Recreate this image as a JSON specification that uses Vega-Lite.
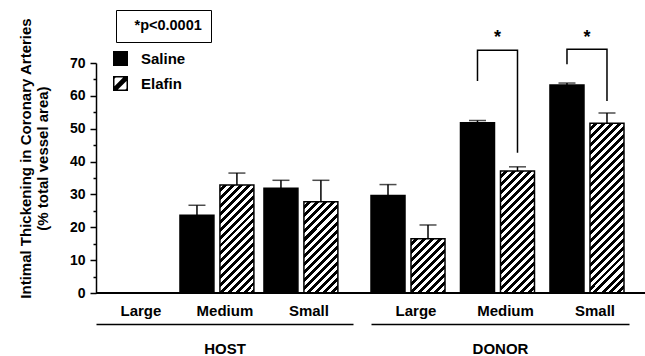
{
"$schema": "https://vega.github.io/schema/vega-lite/v6.json",
"padding": {"left": 17, "top": 9, "right": 0, "bottom": 0},
"background": "white",
"config": {"view": {"stroke": null}, "font": "Liberation Sans", "axis": {"labelOverlap": false}},
"datasets": {
"bars": [
{"site": "HOST", "size": "Medium", "treatment": "Saline", "value": 23.7, "err": 26.7},
{"site": "HOST", "size": "Medium", "treatment": "Elafin", "value": 32.9, "err": 36.5},
{"site": "HOST", "size": "Small", "treatment": "Saline", "value": 31.9, "err": 34.3},
{"site": "HOST", "size": "Small", "treatment": "Elafin", "value": 27.8, "err": 34.3},
{"site": "DONOR", "size": "Large", "treatment": "Saline", "value": 29.7, "err": 33.0},
{"site": "DONOR", "size": "Large", "treatment": "Elafin", "value": 16.5, "err": 20.7},
{"site": "DONOR", "size": "Medium", "treatment": "Saline", "value": 51.8, "err": 52.5},
{"site": "DONOR", "size": "Medium", "treatment": "Elafin", "value": 37.1, "err": 38.4},
{"site": "DONOR", "size": "Small", "treatment": "Saline", "value": 63.3, "err": 63.9},
{"site": "DONOR", "size": "Small", "treatment": "Elafin", "value": 51.7, "err": 54.8}
],
"brackets": [
{"bracket": "Medium", "size": "Medium", "treatment": "Saline", "y": 64.5, "k": 1},
{"bracket": "Medium", "size": "Medium", "treatment": "Saline", "y": 73.9, "k": 2},
{"bracket": "Medium", "size": "Medium", "treatment": "Elafin", "y": 73.9, "k": 3},
{"bracket": "Medium", "size": "Medium", "treatment": "Elafin", "y": 42.7, "k": 4},
{"bracket": "Small", "size": "Small", "treatment": "Saline", "y": 69.6, "k": 1},
{"bracket": "Small", "size": "Small", "treatment": "Saline", "y": 74.2, "k": 2},
{"bracket": "Small", "size": "Small", "treatment": "Elafin", "y": 74.2, "k": 3},
{"bracket": "Small", "size": "Small", "treatment": "Elafin", "y": 58.4, "k": 4}
],
"stars": [{"size": "Medium", "label": "*", "y": 76}, {"size": "Small", "label": "*", "y": 76}],
"note": [{"note": "*p<0.0001"}],
"zero": [{"v": 0}]
},
"spacing": 0,
"bounds": "flush",
"resolve": {"scale": {"x": "independent", "y": "independent", "xOffset": "independent", "fill": "independent"}},
"hconcat": [
{
"width": 257,
"height": 230,
"layer": [
{
"encoding": {
"y": {"field": "value", "type": "quantitative", "scale": {"domain": [0, 70]},
"axis": {"title": ["Intimal Thickening in Coronary Arteries", "(% total vessel area)"], "values": [0, 5, 10, 15, 20, 25, 30, 35, 40, 45, 50, 55, 60, 65, 70], "labelExpr": "datum.value % 10 === 0 ? datum.label : ''", "labelOverlap": false, "tickSize": {"condition": {"test": "datum.value % 10 === 0", "value": 6}, "value": 3}, "tickColor": "#000", "tickWidth": 1.5, "domainColor": "#000", "domainWidth": 1.5, "grid": false, "labelFont": "Liberation Sans", "labelFontSize": 14, "labelFontWeight": "bold", "labelColor": "#000", "labelPadding": 5, "titleFont": "Liberation Sans", "titleFontSize": 15, "titleFontWeight": "bold", "titleColor": "#000", "titleX": -71, "titleY": 95, "titleBaseline": "middle", "titleAlign": "center", "titleAngle": -90, "titleLineHeight": 17}}
},
"layer": [
{
"data": {"name": "bars"},
"transform": [{"filter": "datum.site === 'HOST'"}],
"mark": {"type": "bar", "stroke": "#000", "strokeWidth": 1.5},
"encoding": {
"x": {"field": "size", "type": "nominal", "scale": {"domain": ["Large", "Medium", "Small"], "paddingInner": 0.12, "paddingOuter": 0.09, "align": 0},
"axis": {"orient": "bottom", "offset": 31, "title": "HOST", "domainColor": "#000", "domainWidth": 1.5, "ticks": false, "tickSize": 0, "labelAngle": 0, "labelOverlap": false, "labelFont": "Liberation Sans", "labelFontSize": 15, "labelFontWeight": "bold", "labelColor": "#000", "labelBaseline": "alphabetic", "labelPadding": -9, "labelOffset": 8, "titleFont": "Liberation Sans", "titleFontSize": 15, "titleFontWeight": "bold", "titleColor": "#000", "titleBaseline": "alphabetic", "titleY": 29}},
"xOffset": {"field": "treatment", "type": "nominal", "scale": {"domain": ["Saline", "Elafin"], "paddingInner": 0.15, "paddingOuter": 0}},
"fill": {"field": "treatment", "type": "nominal", "scale": {"domain": ["Saline", "Elafin"], "range": ["#000", "#fff"]}, "legend": null,
"condition": [
{"test": "datum.treatment === 'Elafin' && datum.size === 'Medium'", "value": {"gradient": "linear", "x1": 0, "y1": 0, "x2": 0.3762, "y2": 1.1962, "stops": [
{"offset": 0, "color": "#fff"},
{"offset": 0.0278, "color": "#fff"}, {"offset": 0.0278, "color": "#000"},
{"offset": 0.0556, "color": "#000"}, {"offset": 0.0556, "color": "#fff"},
{"offset": 0.0833, "color": "#fff"}, {"offset": 0.0833, "color": "#000"},
{"offset": 0.1111, "color": "#000"}, {"offset": 0.1111, "color": "#fff"},
{"offset": 0.1389, "color": "#fff"}, {"offset": 0.1389, "color": "#000"},
{"offset": 0.1667, "color": "#000"}, {"offset": 0.1667, "color": "#fff"},
{"offset": 0.1944, "color": "#fff"}, {"offset": 0.1944, "color": "#000"},
{"offset": 0.2222, "color": "#000"}, {"offset": 0.2222, "color": "#fff"},
{"offset": 0.25, "color": "#fff"}, {"offset": 0.25, "color": "#000"},
{"offset": 0.2778, "color": "#000"}, {"offset": 0.2778, "color": "#fff"},
{"offset": 0.3056, "color": "#fff"}, {"offset": 0.3056, "color": "#000"},
{"offset": 0.3333, "color": "#000"}, {"offset": 0.3333, "color": "#fff"},
{"offset": 0.3611, "color": "#fff"}, {"offset": 0.3611, "color": "#000"},
{"offset": 0.3889, "color": "#000"}, {"offset": 0.3889, "color": "#fff"},
{"offset": 0.4167, "color": "#fff"}, {"offset": 0.4167, "color": "#000"},
{"offset": 0.4444, "color": "#000"}, {"offset": 0.4444, "color": "#fff"},
{"offset": 0.4722, "color": "#fff"}, {"offset": 0.4722, "color": "#000"},
{"offset": 0.5, "color": "#000"}, {"offset": 0.5, "color": "#fff"},
{"offset": 0.5278, "color": "#fff"}, {"offset": 0.5278, "color": "#000"},
{"offset": 0.5556, "color": "#000"}, {"offset": 0.5556, "color": "#fff"},
{"offset": 0.5833, "color": "#fff"}, {"offset": 0.5833, "color": "#000"},
{"offset": 0.6111, "color": "#000"}, {"offset": 0.6111, "color": "#fff"},
{"offset": 0.6389, "color": "#fff"}, {"offset": 0.6389, "color": "#000"},
{"offset": 0.6667, "color": "#000"}, {"offset": 0.6667, "color": "#fff"},
{"offset": 0.6944, "color": "#fff"}, {"offset": 0.6944, "color": "#000"},
{"offset": 0.7222, "color": "#000"}, {"offset": 0.7222, "color": "#fff"},
{"offset": 0.75, "color": "#fff"}, {"offset": 0.75, "color": "#000"},
{"offset": 0.7778, "color": "#000"}, {"offset": 0.7778, "color": "#fff"},
{"offset": 0.8056, "color": "#fff"}, {"offset": 0.8056, "color": "#000"},
{"offset": 0.8333, "color": "#000"}, {"offset": 0.8333, "color": "#fff"},
{"offset": 0.8611, "color": "#fff"}, {"offset": 0.8611, "color": "#000"},
{"offset": 0.8889, "color": "#000"}, {"offset": 0.8889, "color": "#fff"},
{"offset": 0.9167, "color": "#fff"}, {"offset": 0.9167, "color": "#000"},
{"offset": 0.9444, "color": "#000"}, {"offset": 0.9444, "color": "#fff"},
{"offset": 0.9722, "color": "#fff"}, {"offset": 0.9722, "color": "#000"},
{"offset": 1, "color": "#000"}]}},
{"test": "datum.treatment === 'Elafin' && datum.size === 'Small'", "value": {"gradient": "linear", "x1": 0, "y1": 0, "x2": 0.4486, "y2": 1.2052, "stops": [
{"offset": 0, "color": "#fff"},
{"offset": 0.0323, "color": "#fff"}, {"offset": 0.0323, "color": "#000"},
{"offset": 0.0645, "color": "#000"}, {"offset": 0.0645, "color": "#fff"},
{"offset": 0.0968, "color": "#fff"}, {"offset": 0.0968, "color": "#000"},
{"offset": 0.129, "color": "#000"}, {"offset": 0.129, "color": "#fff"},
{"offset": 0.1613, "color": "#fff"}, {"offset": 0.1613, "color": "#000"},
{"offset": 0.1935, "color": "#000"}, {"offset": 0.1935, "color": "#fff"},
{"offset": 0.2258, "color": "#fff"}, {"offset": 0.2258, "color": "#000"},
{"offset": 0.2581, "color": "#000"}, {"offset": 0.2581, "color": "#fff"},
{"offset": 0.2903, "color": "#fff"}, {"offset": 0.2903, "color": "#000"},
{"offset": 0.3226, "color": "#000"}, {"offset": 0.3226, "color": "#fff"},
{"offset": 0.3548, "color": "#fff"}, {"offset": 0.3548, "color": "#000"},
{"offset": 0.3871, "color": "#000"}, {"offset": 0.3871, "color": "#fff"},
{"offset": 0.4194, "color": "#fff"}, {"offset": 0.4194, "color": "#000"},
{"offset": 0.4516, "color": "#000"}, {"offset": 0.4516, "color": "#fff"},
{"offset": 0.4839, "color": "#fff"}, {"offset": 0.4839, "color": "#000"},
{"offset": 0.5161, "color": "#000"}, {"offset": 0.5161, "color": "#fff"},
{"offset": 0.5484, "color": "#fff"}, {"offset": 0.5484, "color": "#000"},
{"offset": 0.5806, "color": "#000"}, {"offset": 0.5806, "color": "#fff"},
{"offset": 0.6129, "color": "#fff"}, {"offset": 0.6129, "color": "#000"},
{"offset": 0.6452, "color": "#000"}, {"offset": 0.6452, "color": "#fff"},
{"offset": 0.6774, "color": "#fff"}, {"offset": 0.6774, "color": "#000"},
{"offset": 0.7097, "color": "#000"}, {"offset": 0.7097, "color": "#fff"},
{"offset": 0.7419, "color": "#fff"}, {"offset": 0.7419, "color": "#000"},
{"offset": 0.7742, "color": "#000"}, {"offset": 0.7742, "color": "#fff"},
{"offset": 0.8065, "color": "#fff"}, {"offset": 0.8065, "color": "#000"},
{"offset": 0.8387, "color": "#000"}, {"offset": 0.8387, "color": "#fff"},
{"offset": 0.871, "color": "#fff"}, {"offset": 0.871, "color": "#000"},
{"offset": 0.9032, "color": "#000"}, {"offset": 0.9032, "color": "#fff"},
{"offset": 0.9355, "color": "#fff"}, {"offset": 0.9355, "color": "#000"},
{"offset": 0.9677, "color": "#000"}, {"offset": 0.9677, "color": "#fff"},
{"offset": 1, "color": "#fff"}]}}
]}
}
},
{
"data": {"name": "bars"},
"transform": [{"filter": "datum.site === 'HOST'"}],
"mark": {"type": "rule", "color": "#000", "strokeWidth": 1.5},
"encoding": {
"x": {"field": "size", "type": "nominal"},
"xOffset": {"field": "treatment", "type": "nominal"},
"y2": {"field": "err"}
}
},
{
"data": {"name": "bars"},
"transform": [{"filter": "datum.site === 'HOST'"}],
"mark": {"type": "tick", "color": "#000", "thickness": 1.5, "size": 17, "orient": "horizontal"},
"encoding": {
"x": {"field": "size", "type": "nominal"},
"xOffset": {"field": "treatment", "type": "nominal"},
"y": {"field": "err", "type": "quantitative"}
}
},
{
"data": {"name": "zero"},
"mark": {"type": "rule", "color": "#000", "strokeWidth": 2},
"encoding": {"y": {"field": "v", "type": "quantitative"}}
},
{
"data": {"name": "bars"},
"transform": [{"filter": "datum.site === 'HOST'"}],
"mark": {"type": "point", "opacity": 0, "filled": true, "color": "#000"},
"encoding": {
"shape": {"field": "treatment", "type": "nominal", "scale": {"domain": ["Saline", "Elafin"], "range": ["square", "M-1,-1H1V1H-1Z M-0.8,-0.8V0.8H0.8V-0.8Z M-1,0.55L0.55,-1L1,-1L1,-0.55L-0.55,1L-1,1Z M-1,-1L-0.45,-1L-1,-0.45Z M1,1L0.45,1L1,0.45Z"]},
"legend": {"orient": "none", "legendX": 17, "legendY": -12, "title": null, "symbolSize": 225, "symbolOpacity": 1, "symbolFillColor": "#000", "symbolStrokeColor": "#000", "symbolStrokeWidth": 0, "labelFont": "Liberation Sans", "labelFontSize": 15, "labelFontWeight": "bold", "labelColor": "#000", "labelOffset": 13, "rowPadding": 9, "padding": 0}}
}
}
]
},
{
"data": {"name": "note"},
"mark": {"type": "point", "opacity": 0},
"encoding": {
"color": {"field": "note", "type": "nominal", "scale": {"range": ["#000"]},
"legend": {"orient": "none", "legendX": 20, "legendY": -53, "title": null, "symbolSize": 0, "symbolOpacity": 0, "symbolStrokeWidth": 0, "labelOffset": -5, "labelFont": "Liberation Sans", "labelFontSize": 14.5, "labelFontWeight": "bold", "labelColor": "#000", "strokeColor": "#000", "padding": 9, "encode": {"legend": {"update": {"strokeWidth": {"value": 1.5}}}}}}
}
}
]
},
{
"width": 293,
"height": 230,
"encoding": {
"y": {"field": "value", "type": "quantitative", "scale": {"domain": [0, 70]}, "axis": null}
},
"layer": [
{
"data": {"name": "bars"},
"transform": [{"filter": "datum.site === 'DONOR'"}],
"mark": {"type": "bar", "stroke": "#000", "strokeWidth": 1.5},
"encoding": {
"x": {"field": "size", "type": "nominal", "scale": {"domain": ["Large", "Medium", "Small"], "range": [18, 276], "paddingInner": 0.173, "paddingOuter": 0.028, "align": 0},
"axis": {"orient": "bottom", "offset": 31, "title": "DONOR", "domainColor": "#000", "domainWidth": 1.5, "ticks": false, "tickSize": 0, "labelAngle": 0, "labelOverlap": false, "labelFont": "Liberation Sans", "labelFontSize": 15, "labelFontWeight": "bold", "labelColor": "#000", "labelBaseline": "alphabetic", "labelPadding": -9, "labelOffset": 8, "titleFont": "Liberation Sans", "titleFontSize": 15, "titleFontWeight": "bold", "titleColor": "#000", "titleBaseline": "alphabetic", "titleY": 29}},
"xOffset": {"field": "treatment", "type": "nominal", "scale": {"domain": ["Saline", "Elafin"], "paddingInner": 0.15, "paddingOuter": 0}},
"fill": {"field": "treatment", "type": "nominal", "scale": {"domain": ["Saline", "Elafin"], "range": ["#000", "#fff"]}, "legend": null,
"condition": [
{"test": "datum.treatment === 'Elafin' && datum.size === 'Large'", "value": {"gradient": "linear", "x1": 0, "y1": 0, "x2": 0.7324, "y2": 1.1678, "stops": [
{"offset": 0, "color": "#fff"},
{"offset": 0.0455, "color": "#fff"}, {"offset": 0.0455, "color": "#000"},
{"offset": 0.0909, "color": "#000"}, {"offset": 0.0909, "color": "#fff"},
{"offset": 0.1364, "color": "#fff"}, {"offset": 0.1364, "color": "#000"},
{"offset": 0.1818, "color": "#000"}, {"offset": 0.1818, "color": "#fff"},
{"offset": 0.2273, "color": "#fff"}, {"offset": 0.2273, "color": "#000"},
{"offset": 0.2727, "color": "#000"}, {"offset": 0.2727, "color": "#fff"},
{"offset": 0.3182, "color": "#fff"}, {"offset": 0.3182, "color": "#000"},
{"offset": 0.3636, "color": "#000"}, {"offset": 0.3636, "color": "#fff"},
{"offset": 0.4091, "color": "#fff"}, {"offset": 0.4091, "color": "#000"},
{"offset": 0.4545, "color": "#000"}, {"offset": 0.4545, "color": "#fff"},
{"offset": 0.5, "color": "#fff"}, {"offset": 0.5, "color": "#000"},
{"offset": 0.5455, "color": "#000"}, {"offset": 0.5455, "color": "#fff"},
{"offset": 0.5909, "color": "#fff"}, {"offset": 0.5909, "color": "#000"},
{"offset": 0.6364, "color": "#000"}, {"offset": 0.6364, "color": "#fff"},
{"offset": 0.6818, "color": "#fff"}, {"offset": 0.6818, "color": "#000"},
{"offset": 0.7273, "color": "#000"}, {"offset": 0.7273, "color": "#fff"},
{"offset": 0.7727, "color": "#fff"}, {"offset": 0.7727, "color": "#000"},
{"offset": 0.8182, "color": "#000"}, {"offset": 0.8182, "color": "#fff"},
{"offset": 0.8636, "color": "#fff"}, {"offset": 0.8636, "color": "#000"},
{"offset": 0.9091, "color": "#000"}, {"offset": 0.9091, "color": "#fff"},
{"offset": 0.9545, "color": "#fff"}, {"offset": 0.9545, "color": "#000"},
{"offset": 1, "color": "#000"}]}},
{"test": "datum.treatment === 'Elafin' && datum.size === 'Medium'", "value": {"gradient": "linear", "x1": 0, "y1": 0, "x2": 0.331, "y2": 1.1866, "stops": [
{"offset": 0, "color": "#fff"},
{"offset": 0.0256, "color": "#fff"}, {"offset": 0.0256, "color": "#000"},
{"offset": 0.0513, "color": "#000"}, {"offset": 0.0513, "color": "#fff"},
{"offset": 0.0769, "color": "#fff"}, {"offset": 0.0769, "color": "#000"},
{"offset": 0.1026, "color": "#000"}, {"offset": 0.1026, "color": "#fff"},
{"offset": 0.1282, "color": "#fff"}, {"offset": 0.1282, "color": "#000"},
{"offset": 0.1538, "color": "#000"}, {"offset": 0.1538, "color": "#fff"},
{"offset": 0.1795, "color": "#fff"}, {"offset": 0.1795, "color": "#000"},
{"offset": 0.2051, "color": "#000"}, {"offset": 0.2051, "color": "#fff"},
{"offset": 0.2308, "color": "#fff"}, {"offset": 0.2308, "color": "#000"},
{"offset": 0.2564, "color": "#000"}, {"offset": 0.2564, "color": "#fff"},
{"offset": 0.2821, "color": "#fff"}, {"offset": 0.2821, "color": "#000"},
{"offset": 0.3077, "color": "#000"}, {"offset": 0.3077, "color": "#fff"},
{"offset": 0.3333, "color": "#fff"}, {"offset": 0.3333, "color": "#000"},
{"offset": 0.359, "color": "#000"}, {"offset": 0.359, "color": "#fff"},
{"offset": 0.3846, "color": "#fff"}, {"offset": 0.3846, "color": "#000"},
{"offset": 0.4103, "color": "#000"}, {"offset": 0.4103, "color": "#fff"},
{"offset": 0.4359, "color": "#fff"}, {"offset": 0.4359, "color": "#000"},
{"offset": 0.4615, "color": "#000"}, {"offset": 0.4615, "color": "#fff"},
{"offset": 0.4872, "color": "#fff"}, {"offset": 0.4872, "color": "#000"},
{"offset": 0.5128, "color": "#000"}, {"offset": 0.5128, "color": "#fff"},
{"offset": 0.5385, "color": "#fff"}, {"offset": 0.5385, "color": "#000"},
{"offset": 0.5641, "color": "#000"}, {"offset": 0.5641, "color": "#fff"},
{"offset": 0.5897, "color": "#fff"}, {"offset": 0.5897, "color": "#000"},
{"offset": 0.6154, "color": "#000"}, {"offset": 0.6154, "color": "#fff"},
{"offset": 0.641, "color": "#fff"}, {"offset": 0.641, "color": "#000"},
{"offset": 0.6667, "color": "#000"}, {"offset": 0.6667, "color": "#fff"},
{"offset": 0.6923, "color": "#fff"}, {"offset": 0.6923, "color": "#000"},
{"offset": 0.7179, "color": "#000"}, {"offset": 0.7179, "color": "#fff"},
{"offset": 0.7436, "color": "#fff"}, {"offset": 0.7436, "color": "#000"},
{"offset": 0.7692, "color": "#000"}, {"offset": 0.7692, "color": "#fff"},
{"offset": 0.7949, "color": "#fff"}, {"offset": 0.7949, "color": "#000"},
{"offset": 0.8205, "color": "#000"}, {"offset": 0.8205, "color": "#fff"},
{"offset": 0.8462, "color": "#fff"}, {"offset": 0.8462, "color": "#000"},
{"offset": 0.8718, "color": "#000"}, {"offset": 0.8718, "color": "#fff"},
{"offset": 0.8974, "color": "#fff"}, {"offset": 0.8974, "color": "#000"},
{"offset": 0.9231, "color": "#000"}, {"offset": 0.9231, "color": "#fff"},
{"offset": 0.9487, "color": "#fff"}, {"offset": 0.9487, "color": "#000"},
{"offset": 0.9744, "color": "#000"}, {"offset": 0.9744, "color": "#fff"},
{"offset": 1, "color": "#fff"}]}},
{"test": "datum.treatment === 'Elafin' && datum.size === 'Small'", "value": {"gradient": "linear", "x1": 0, "y1": 0, "x2": 0.231, "y2": 1.1539, "stops": [
{"offset": 0, "color": "#fff"},
{"offset": 0.0196, "color": "#fff"}, {"offset": 0.0196, "color": "#000"},
{"offset": 0.0392, "color": "#000"}, {"offset": 0.0392, "color": "#fff"},
{"offset": 0.0588, "color": "#fff"}, {"offset": 0.0588, "color": "#000"},
{"offset": 0.0784, "color": "#000"}, {"offset": 0.0784, "color": "#fff"},
{"offset": 0.098, "color": "#fff"}, {"offset": 0.098, "color": "#000"},
{"offset": 0.1176, "color": "#000"}, {"offset": 0.1176, "color": "#fff"},
{"offset": 0.1373, "color": "#fff"}, {"offset": 0.1373, "color": "#000"},
{"offset": 0.1569, "color": "#000"}, {"offset": 0.1569, "color": "#fff"},
{"offset": 0.1765, "color": "#fff"}, {"offset": 0.1765, "color": "#000"},
{"offset": 0.1961, "color": "#000"}, {"offset": 0.1961, "color": "#fff"},
{"offset": 0.2157, "color": "#fff"}, {"offset": 0.2157, "color": "#000"},
{"offset": 0.2353, "color": "#000"}, {"offset": 0.2353, "color": "#fff"},
{"offset": 0.2549, "color": "#fff"}, {"offset": 0.2549, "color": "#000"},
{"offset": 0.2745, "color": "#000"}, {"offset": 0.2745, "color": "#fff"},
{"offset": 0.2941, "color": "#fff"}, {"offset": 0.2941, "color": "#000"},
{"offset": 0.3137, "color": "#000"}, {"offset": 0.3137, "color": "#fff"},
{"offset": 0.3333, "color": "#fff"}, {"offset": 0.3333, "color": "#000"},
{"offset": 0.3529, "color": "#000"}, {"offset": 0.3529, "color": "#fff"},
{"offset": 0.3725, "color": "#fff"}, {"offset": 0.3725, "color": "#000"},
{"offset": 0.3922, "color": "#000"}, {"offset": 0.3922, "color": "#fff"},
{"offset": 0.4118, "color": "#fff"}, {"offset": 0.4118, "color": "#000"},
{"offset": 0.4314, "color": "#000"}, {"offset": 0.4314, "color": "#fff"},
{"offset": 0.451, "color": "#fff"}, {"offset": 0.451, "color": "#000"},
{"offset": 0.4706, "color": "#000"}, {"offset": 0.4706, "color": "#fff"},
{"offset": 0.4902, "color": "#fff"}, {"offset": 0.4902, "color": "#000"},
{"offset": 0.5098, "color": "#000"}, {"offset": 0.5098, "color": "#fff"},
{"offset": 0.5294, "color": "#fff"}, {"offset": 0.5294, "color": "#000"},
{"offset": 0.549, "color": "#000"}, {"offset": 0.549, "color": "#fff"},
{"offset": 0.5686, "color": "#fff"}, {"offset": 0.5686, "color": "#000"},
{"offset": 0.5882, "color": "#000"}, {"offset": 0.5882, "color": "#fff"},
{"offset": 0.6078, "color": "#fff"}, {"offset": 0.6078, "color": "#000"},
{"offset": 0.6275, "color": "#000"}, {"offset": 0.6275, "color": "#fff"},
{"offset": 0.6471, "color": "#fff"}, {"offset": 0.6471, "color": "#000"},
{"offset": 0.6667, "color": "#000"}, {"offset": 0.6667, "color": "#fff"},
{"offset": 0.6863, "color": "#fff"}, {"offset": 0.6863, "color": "#000"},
{"offset": 0.7059, "color": "#000"}, {"offset": 0.7059, "color": "#fff"},
{"offset": 0.7255, "color": "#fff"}, {"offset": 0.7255, "color": "#000"},
{"offset": 0.7451, "color": "#000"}, {"offset": 0.7451, "color": "#fff"},
{"offset": 0.7647, "color": "#fff"}, {"offset": 0.7647, "color": "#000"},
{"offset": 0.7843, "color": "#000"}, {"offset": 0.7843, "color": "#fff"},
{"offset": 0.8039, "color": "#fff"}, {"offset": 0.8039, "color": "#000"},
{"offset": 0.8235, "color": "#000"}, {"offset": 0.8235, "color": "#fff"},
{"offset": 0.8431, "color": "#fff"}, {"offset": 0.8431, "color": "#000"},
{"offset": 0.8627, "color": "#000"}, {"offset": 0.8627, "color": "#fff"},
{"offset": 0.8824, "color": "#fff"}, {"offset": 0.8824, "color": "#000"},
{"offset": 0.902, "color": "#000"}, {"offset": 0.902, "color": "#fff"},
{"offset": 0.9216, "color": "#fff"}, {"offset": 0.9216, "color": "#000"},
{"offset": 0.9412, "color": "#000"}, {"offset": 0.9412, "color": "#fff"},
{"offset": 0.9608, "color": "#fff"}, {"offset": 0.9608, "color": "#000"},
{"offset": 0.9804, "color": "#000"}, {"offset": 0.9804, "color": "#fff"},
{"offset": 1, "color": "#fff"}]}}
]}
}
},
{
"data": {"name": "bars"},
"transform": [{"filter": "datum.site === 'DONOR'"}],
"mark": {"type": "rule", "color": "#000", "strokeWidth": 1.5},
"encoding": {
"x": {"field": "size", "type": "nominal"},
"xOffset": {"field": "treatment", "type": "nominal"},
"y2": {"field": "err"}
}
},
{
"data": {"name": "bars"},
"transform": [{"filter": "datum.site === 'DONOR'"}],
"mark": {"type": "tick", "color": "#000", "thickness": 1.5, "size": 17, "orient": "horizontal"},
"encoding": {
"x": {"field": "size", "type": "nominal"},
"xOffset": {"field": "treatment", "type": "nominal"},
"y": {"field": "err", "type": "quantitative"}
}
},
{
"data": {"name": "zero"},
"mark": {"type": "rule", "color": "#000", "strokeWidth": 2},
"encoding": {"y": {"field": "v", "type": "quantitative"}}
},
{
"data": {"name": "brackets"},
"mark": {"type": "line", "color": "#000", "strokeWidth": 1.5},
"encoding": {
"x": {"field": "size", "type": "nominal"},
"xOffset": {"field": "treatment", "type": "nominal"},
"y": {"field": "y", "type": "quantitative"},
"detail": {"field": "bracket"},
"order": {"field": "k", "type": "quantitative"}
}
},
{
"data": {"name": "stars"},
"mark": {"type": "text", "fontSize": 18, "fontWeight": "bold", "baseline": "alphabetic", "align": "center", "color": "#000", "font": "Liberation Sans"},
"encoding": {
"x": {"field": "size", "type": "nominal"},
"y": {"field": "y", "type": "quantitative"},
"text": {"field": "label"}
}
}
]
}
]
}
